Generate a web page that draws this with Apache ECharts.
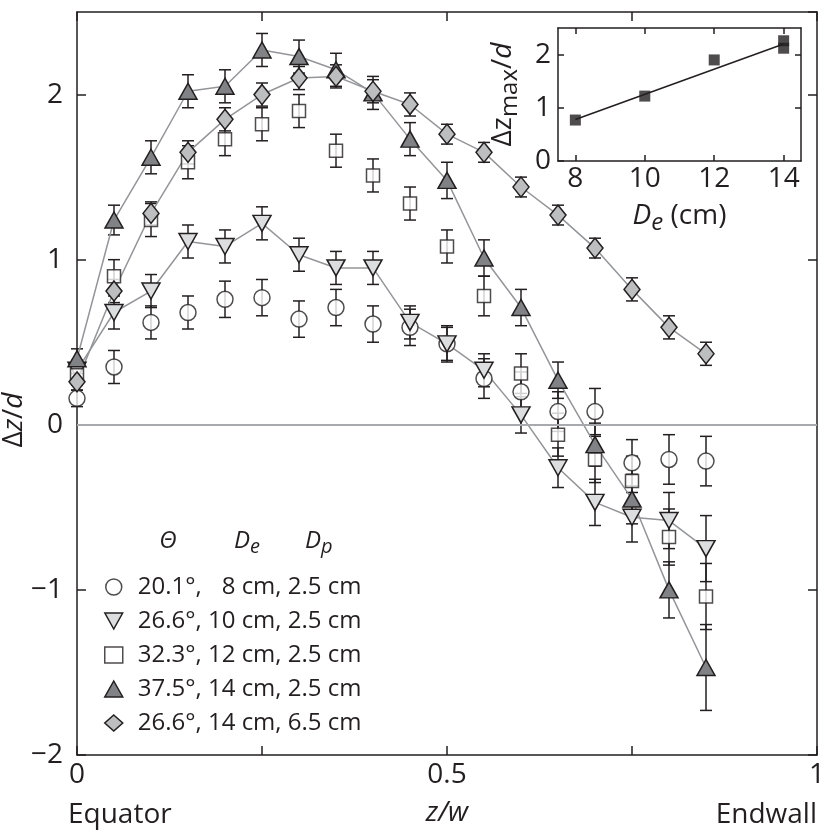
<!DOCTYPE html>
<html><head><meta charset="utf-8">
<style>html,body{margin:0;padding:0;background:#fff}#c{width:830px;height:835px}</style>
<script src="https://cdn.jsdelivr.net/npm/echarts/dist/echarts.min.js"></script>
</head><body><div id="c"></div><script>
// ---------- data ----------
const zw = [0,0.05,0.1,0.15,0.2,0.25,0.3,0.35,0.4,0.45,0.5,0.55,0.6,0.65,0.7,0.75,0.8,0.85];
const names = ['20.1°, \u20078 cm, 2.5 cm','26.6°, 10 cm, 2.5 cm','32.3°, 12 cm, 2.5 cm','37.5°, 14 cm, 2.5 cm','26.6°, 14 cm, 6.5 cm'];
const circleVals = [0.16,0.35,0.62,0.68,0.76,0.77,0.64,0.71,0.61,0.59,0.49,0.28,0.20,0.08,0.08,-0.23,-0.21,-0.22];
const circleErr  = [0.05,0.10,0.10,0.10,0.11,0.11,0.11,0.11,0.11,0.11,0.11,0.12,0.12,0.12,0.14,0.14,0.15,0.15];
const invTriVals = [0.33,0.68,0.81,1.11,1.08,1.22,1.03,0.95,0.95,0.62,0.49,0.33,0.06,-0.26,-0.47,-0.56,-0.58,-0.75];
const invTriErr  = [0.06,0.10,0.10,0.10,0.10,0.10,0.10,0.10,0.10,0.10,0.10,0.10,0.11,0.12,0.14,0.15,0.17,0.20];
const squareVals = [0.30,0.90,1.24,1.59,1.73,1.82,1.90,1.66,1.51,1.34,1.08,0.78,0.31,-0.06,-0.21,-0.34,-0.68,-1.04];
const squareErr  = [0.06,0.10,0.10,0.10,0.10,0.10,0.10,0.10,0.10,0.10,0.10,0.12,0.12,0.13,0.14,0.15,0.17,0.20];
const triVals    = [0.40,1.24,1.62,2.02,2.05,2.27,2.23,2.15,2.01,1.73,1.48,1.01,0.71,0.27,-0.12,-0.45,-1.00,-1.47];
const triErr     = [0.06,0.09,0.10,0.10,0.10,0.10,0.10,0.10,0.10,0.10,0.11,0.11,0.11,0.11,0.13,0.15,0.17,0.26];
const diaVals    = [0.26,0.81,1.28,1.65,1.85,2.00,2.10,2.11,2.02,1.94,1.76,1.65,1.44,1.27,1.07,0.82,0.59,0.43];
const diaErr     = [0.05,0.07,0.07,0.07,0.07,0.07,0.07,0.07,0.07,0.07,0.06,0.06,0.06,0.06,0.06,0.07,0.07,0.07];
const xTickLabels = [0, 0.5, 1];
const insetDe  = [8,10,12,14,14];
const insetMax = [0.77,1.22,1.90,2.26,2.12];
const fitDe  = [8,14];
const fitVal = [0.78,2.20];
const insetXTicks = [8,10,12,14];
const insetYTicks = [0,1,2];

// ---------- style ----------
const INK = '#231f20';
const FONT = '"Open Sans", "Noto Sans", sans-serif';
const axisLine = {show:true, onZero:false, lineStyle:{color:INK, width:1.5}};
const tickIn = (len)=>({show:true, inside:true, length:len, lineStyle:{color:INK, width:1.5}});
const fmtNum = v => (v < 0 ? '\u2212' + Math.abs(v) : String(v));

function errRender(params, api){
  const x = api.value(0), lo = api.value(1), hi = api.value(2);
  const p1 = api.coord([x, hi]), p2 = api.coord([x, lo]);
  const w = 6;
  const st = {stroke:INK, lineWidth:1.5, fill:null};
  return {type:'group', children:[
    {type:'line', shape:{x1:p1[0],y1:p1[1],x2:p2[0],y2:p2[1]}, style:st},
    {type:'line', shape:{x1:p1[0]-w,y1:p1[1],x2:p1[0]+w,y2:p1[1]}, style:st},
    {type:'line', shape:{x1:p2[0]-w,y1:p2[1],x2:p2[0]+w,y2:p2[1]}, style:st}
  ]};
}
function errSeries(vals, errs, extra){
  return Object.assign({
    type:'custom', xAxisIndex:0, yAxisIndex:0, renderItem:errRender, z:2, silent:true,
    encode:{x:0, y:[1,2]},
    data: zw.map((x,i)=>[x, vals[i]-errs[i], vals[i]+errs[i]])
  }, extra||{});
}
const pts = vals => zw.map((x,i)=>[x, vals[i]]);
const mk = (fill)=>({color:fill, borderColor:INK, borderWidth:1.5});
const connLine = {color:'#939598', width:1.5};

const series = [
  errSeries(circleVals, circleErr, {markLine:{silent:true, symbol:'none', label:{show:false},
    lineStyle:{color:'#a7a9ac', width:2, type:'solid'}, data:[{yAxis:0}]}, z:1}),
  errSeries(invTriVals, invTriErr),
  errSeries(squareVals, squareErr),
  errSeries(triVals, triErr),
  errSeries(diaVals, diaErr),
  {name:names[0], type:'scatter', data:pts(circleVals), symbol:'circle', symbolSize:16, itemStyle:mk('#ffffff'), z:4},
  {name:names[1], type:'line', data:pts(invTriVals), symbol:'triangle', symbolRotate:180, symbolSize:[18,16], showAllSymbol:true,
    lineStyle:connLine, itemStyle:mk('#dcddde'), z:4},
  {name:names[2], type:'scatter', data:pts(squareVals), symbol:'rect', symbolSize:13, itemStyle:mk('#ffffff'), z:4},
  {name:names[3], type:'line', data:pts(triVals), symbol:'triangle', symbolSize:[18,16], showAllSymbol:true,
    lineStyle:connLine, itemStyle:mk('#808285'), z:4},
  {name:names[4], type:'line', data:pts(diaVals), symbol:'diamond', symbolSize:[16,20], showAllSymbol:true,
    lineStyle:connLine, itemStyle:mk('#bcbec0'), z:4},
  // inset
  {type:'line', xAxisIndex:2, yAxisIndex:2, data:fitDe.map((d,i)=>[d, fitVal[i]]), symbol:'none',
    lineStyle:{color:INK, width:1.5}, z:5, silent:true},
  {type:'scatter', xAxisIndex:2, yAxisIndex:2, data:insetDe.map((d,i)=>[d, insetMax[i]]), symbol:'rect', symbolSize:11,
    itemStyle:{color:INK}, z:6, silent:true}
];

const chart = echarts.init(document.getElementById('c'), null, {renderer:'canvas'});
chart.setOption({
  animation:false,
  backgroundColor:'#ffffff',
  textStyle:{fontFamily:FONT, color:INK},
  grid:[
    {left:77, top:12, width:740, height:743},
    {left:558, top:28, width:243, height:133}
  ],
  xAxis:[
    {type:'value', gridIndex:0, position:'bottom', min:0, max:1, interval:0.25,
      axisLine, axisTick:tickIn(9), splitLine:{show:false},
      axisLabel:{fontSize:28, color:INK, fontFamily:FONT, margin:6,
        formatter:v => xTickLabels.some(t=>Math.abs(t-v)<1e-9) ? String(v) : ''},
      name:'z/w', nameLocation:'middle', nameGap:44,
      nameTextStyle:{fontSize:28, fontStyle:'italic', color:INK, fontFamily:FONT}},
    {type:'value', gridIndex:0, position:'top', min:0, max:1, interval:0.25,
      axisLine, axisTick:tickIn(9), axisLabel:{show:false}, splitLine:{show:false}},
    {type:'value', gridIndex:1, position:'bottom', min:7.5, max:14.5,
      axisLine, axisTick:Object.assign(tickIn(6), {customValues:insetXTicks}), splitLine:{show:false},
      axisLabel:{fontSize:28, color:INK, fontFamily:FONT, margin:4, customValues:insetXTicks},
      name:'{i|D}{s|e}{n| (cm)}', nameLocation:'middle', nameGap:36,
      nameTextStyle:{fontSize:28, color:INK, fontFamily:FONT, rich:{
        i:{fontSize:28, fontStyle:'italic', fontFamily:FONT, color:INK},
        s:{fontSize:24, fontStyle:'italic', fontFamily:FONT, color:INK, padding:[14,0,0,0]},
        n:{fontSize:28, fontFamily:FONT, color:INK}}}},
    {type:'value', gridIndex:1, position:'top', min:7.5, max:14.5,
      axisLine, axisTick:Object.assign(tickIn(6), {customValues:insetXTicks}), axisLabel:{show:false}, splitLine:{show:false}}
  ],
  yAxis:[
    {type:'value', gridIndex:0, position:'left', min:-2, max:2.5, interval:1,
      axisLine, axisTick:tickIn(9), splitLine:{show:false},
      axisLabel:{fontSize:28, color:INK, fontFamily:FONT, margin:14, showMaxLabel:false, formatter:fmtNum}},
    {type:'value', gridIndex:0, position:'right', min:-2, max:2.5, interval:1,
      axisLine, axisTick:tickIn(9), axisLabel:{show:false}, splitLine:{show:false}},
    {type:'value', gridIndex:1, position:'left', min:0, max:2.5,
      axisLine, axisTick:Object.assign(tickIn(6), {customValues:insetYTicks}), splitLine:{show:false},
      axisLabel:{fontSize:28, color:INK, fontFamily:FONT, margin:7, customValues:insetYTicks},
      name:'{n|Δz}{s|max}{n|/}{i|d}', nameLocation:'middle', nameGap:36, nameRotate:90,
      nameTextStyle:{fontSize:28, color:INK, fontFamily:FONT, rich:{
        i:{fontSize:28, fontStyle:'italic', fontFamily:FONT, color:INK},
        s:{fontSize:24, fontFamily:FONT, color:INK, padding:[14,0,0,0]},
        n:{fontSize:28, fontFamily:FONT, color:INK}}}},
    {type:'value', gridIndex:1, position:'right', min:0, max:2.5,
      axisLine, axisTick:Object.assign(tickIn(6), {customValues:[1,2]}), axisLabel:{show:false}, splitLine:{show:false}}
  ],
  legend:{
    orient:'vertical', left:99, top:570, itemWidth:18, itemHeight:16, itemGap:10,
    selectedMode:false,
    itemStyle:{borderColor:INK, borderWidth:1.5},
    textStyle:{fontSize:24, color:INK, fontFamily:FONT, padding:[0,0,0,10]},
    data:[
      {name:names[0], icon:'circle'},
      {name:names[1], icon:'path://M0,0L20,0L10,18Z'},
      {name:names[2], icon:'rect'},
      {name:names[3], icon:'triangle'},
      {name:names[4], icon:'diamond'}
    ]
  },
  graphic:[
    {type:'text', x:14, y:420, rotation:Math.PI/2, style:{
      text:'{n|Δ}{i|z}{n|/}{i|d}', align:'center', verticalAlign:'middle',
      rich:{n:{fontSize:28, fontFamily:FONT, fill:INK}, i:{fontSize:28, fontStyle:'italic', fontFamily:FONT, fill:INK}}}},
    {type:'text', x:68, y:815, style:{text:'Equator', fontSize:28, fontFamily:FONT, fill:INK, align:'left', verticalAlign:'middle'}},
    {type:'text', x:817, y:815, style:{text:'Endwall', fontSize:28, fontFamily:FONT, fill:INK, align:'right', verticalAlign:'middle'}},
    {type:'text', x:168, y:541, style:{text:'Θ', fontSize:24, fontStyle:'italic', fontFamily:FONT, fill:INK, align:'center', verticalAlign:'middle'}},
    {type:'text', x:234, y:541, style:{text:'{i|D}{s|e}', verticalAlign:'middle',
      rich:{i:{fontSize:24, fontStyle:'italic', fontFamily:FONT, fill:INK}, s:{fontSize:20, fontStyle:'italic', fontFamily:FONT, fill:INK, padding:[12,0,0,0]}}}},
    {type:'text', x:305, y:541, style:{text:'{i|D}{s|p}', verticalAlign:'middle',
      rich:{i:{fontSize:24, fontStyle:'italic', fontFamily:FONT, fill:INK}, s:{fontSize:20, fontStyle:'italic', fontFamily:FONT, fill:INK, padding:[12,0,0,0]}}}}
  ],
  series
});
</script></body></html>
